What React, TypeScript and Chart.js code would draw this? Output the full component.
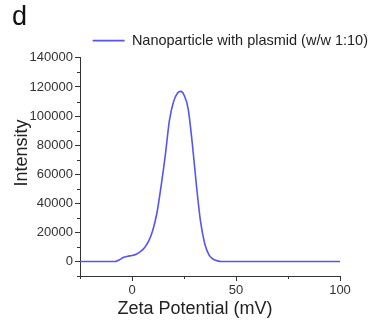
import React, { useEffect, useRef } from "react";
import { Chart, registerables } from "chart.js";

Chart.register(...registerables);

const zetaPotential = [-25, -10, -8, -6, -4, -2, 0, 2, 4, 6, 8, 10, 12, 14, 16, 18, 20, 22, 23.5, 25, 27, 29, 31, 33, 35, 37, 39, 41, 43, 50, 75, 100];
const intensity = [0, 0, 0, 1200, 2900, 3600, 4100, 5000, 6800, 9500, 14000, 21500, 33500, 52000, 73000, 97000, 110000, 116000, 117000, 114500, 105000, 81000, 52000, 27000, 12000, 4500, 1600, 400, 0, 0, 0, 0];
const seriesLabel = "Nanoparticle with plasmid (w/w 1:10)";
const panelLabel = "d";
const xTitle = "Zeta Potential (mV)";
const yTitle = "Intensity";
const xMajorTicks = [0, 50, 100];
const yMajorTicks = [0, 20000, 40000, 60000, 80000, 100000, 120000, 140000];

const FONT = "'Liberation Sans', Arial, sans-serif";
const AXIS = "#333";
const BLUE = "#5555f0";

const decorPlugin = {
  id: "decor",
  afterDraw(chart: any) {
    const { ctx, chartArea, scales } = chart;
    const x = scales.x;
    const y = scales.y;
    ctx.save();
    ctx.strokeStyle = AXIS;
    ctx.lineWidth = 1;
    ctx.beginPath();
    for (let v = -10000; v <= 140000; v += 10000) {
      if (yMajorTicks.includes(v)) continue;
      const py = Math.round(y.getPixelForValue(v)) + 0.5;
      ctx.moveTo(chartArea.left - 3, py);
      ctx.lineTo(chartArea.left, py);
    }
    for (let v = -25; v <= 100; v += 25) {
      if (xMajorTicks.includes(v)) continue;
      const px = Math.round(x.getPixelForValue(v)) + 0.5;
      ctx.moveTo(px, chartArea.bottom);
      ctx.lineTo(px, chartArea.bottom + 3);
    }
    ctx.stroke();

    ctx.fillStyle = "#222";
    ctx.font = `18px ${FONT}`;
    ctx.textAlign = "center";
    ctx.textBaseline = "middle";
    ctx.fillText(xTitle, 195, 309);
    ctx.translate(22, 153);
    ctx.rotate(-Math.PI / 2);
    ctx.fillText(yTitle, 0, 0);
    ctx.restore();
  },
};

export default function App() {
  const ref = useRef<HTMLCanvasElement>(null);
  useEffect(() => {
    if (!ref.current) return;
    const chart = new Chart(ref.current, {
      type: "line",
      data: {
        datasets: [
          {
            label: seriesLabel,
            data: zetaPotential.map((x, i) => ({ x, y: intensity[i] })),
            borderColor: BLUE,
            backgroundColor: BLUE,
            borderWidth: 1.6,
            pointRadius: 0,
            fill: false,
            cubicInterpolationMode: "monotone",
          } as any,
        ],
      },
      options: {
        animation: false,
        responsive: false,
        maintainAspectRatio: false,
        font: { family: FONT },
        layout: { padding: { left: 12, right: 4, top: 0, bottom: 0 } },
        plugins: {
          title: {
            display: true,
            text: panelLabel,
            align: "start",
            color: "#111",
            font: { size: 27, family: FONT, weight: "normal" },
            padding: { top: 1, bottom: 0 },
          },
          legend: {
            display: true,
            align: "end",
            labels: {
              color: "#222",
              font: { size: 14.5, family: FONT },
              usePointStyle: true,
              pointStyle: "line",
              pointStyleWidth: 32,
              padding: 0,
            },
          },
          tooltip: { enabled: false },
        },
        scales: {
          x: {
            type: "linear",
            min: -25,
            max: 100,
            border: { display: true, color: AXIS, width: 1 },
            grid: {
              display: true,
              drawOnChartArea: false,
              drawTicks: true,
              tickLength: 5,
              color: (c: any) => (c.tick && xMajorTicks.includes(c.tick.value) ? AXIS : "transparent"),
              tickColor: (c: any) => (c.tick && xMajorTicks.includes(c.tick.value) ? AXIS : "transparent"),
            },
            ticks: {
              stepSize: 25,
              autoSkip: false,
              maxRotation: 0,
              padding: 2,
              color: "#333",
              font: { size: 13, family: FONT },
              callback: (v: any) => (xMajorTicks.includes(Number(v)) ? String(v) : ""),
            },
            afterFit: (s: any) => {
              s.height = 49;
            },
          },
          y: {
            type: "linear",
            min: -10000,
            max: 140000,
            border: { display: true, color: AXIS, width: 1 },
            grid: {
              display: true,
              drawOnChartArea: false,
              drawTicks: true,
              tickLength: 5,
              color: (c: any) => (c.tick && yMajorTicks.includes(c.tick.value) ? AXIS : "transparent"),
              tickColor: (c: any) => (c.tick && yMajorTicks.includes(c.tick.value) ? AXIS : "transparent"),
            },
            ticks: {
              stepSize: 10000,
              autoSkip: false,
              padding: 2,
              color: "#333",
              font: { size: 13, family: FONT },
              callback: (v: any) => (yMajorTicks.includes(Number(v)) ? String(v) : ""),
            },
            afterFit: (s: any) => {
              s.width = 68;
            },
          },
          spacer: {
            type: "linear",
            position: "right",
            display: true,
            border: { display: false },
            grid: { display: false, drawTicks: false },
            ticks: { display: false },
            afterFit: (s: any) => {
              s.width = 28;
            },
          },
        },
      } as any,
      plugins: [decorPlugin],
    });
    return () => chart.destroy();
  }, []);
  return (
    <div style={{ position: "absolute", left: 0, top: 0, width: 372, height: 325, background: "#fff" }}>
      <canvas ref={ref} width={372} height={325} style={{ width: 372, height: 325, display: "block" }} />
    </div>
  );
}
